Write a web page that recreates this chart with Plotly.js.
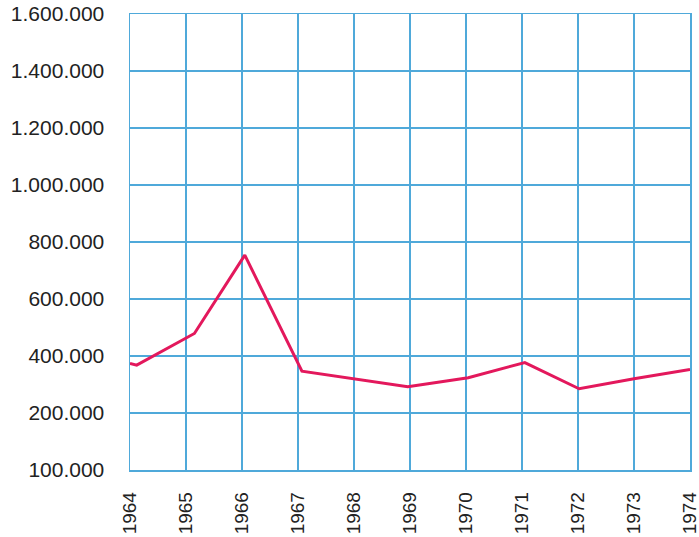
<!DOCTYPE html>
<html>
<head>
<meta charset="utf-8">
<script src="https://cdn.plot.ly/plotly-3.0.1.min.js"></script>
<style>html,body{margin:0;padding:0;background:#fff;}#chart{width:699px;height:537px;}</style>
</head>
<body>
<div id="chart"></div>
<script>
// Data (x in years, kinks sit slightly off the grid lines)
const years = [1964, 1964.12, 1965.15, 1966.05, 1967.07, 1968.96, 1970.04, 1971.05, 1972.02, 1973.0, 1974.0];
const values = [374000, 368000, 479000, 754000, 347000, 292000, 324000, 377000, 285000, 320000, 353000];
// Axis ticks (bottom line is labelled 100.000 in the original)
const yTickVals = [0, 200000, 400000, 600000, 800000, 1000000, 1200000, 1400000, 1600000];
const yTickText = ["100.000", "200.000", "400.000", "600.000", "800.000", "1.000.000", "1.200.000", "1.400.000", "1.600.000"];
const xTickVals = [1964, 1965, 1966, 1967, 1968, 1969, 1970, 1971, 1972, 1973, 1974];
const xTickText = ["1964", "1965", "1966", "1967", "1968", "1969", "1970", "1971", "1972", "1973", "1974"];

const gridColor = "#4fa9da";
const trace = {
  x: years, y: values, type: "scatter", mode: "lines",
  line: {color: "#e3185c", width: 3},
  hoverinfo: "skip"
};
const layout = {
  width: 699, height: 537,
  margin: {l: 130, r: 9, t: 14, b: 67},
  paper_bgcolor: "#ffffff", plot_bgcolor: "#ffffff",
  showlegend: false,
  font: {family: "Liberation Sans, Arial, sans-serif", size: 21, color: "#222222"},
  xaxis: {
    range: [1964, 1974], tickmode: "array", tickvals: xTickVals, ticktext: xTickText,
    tickangle: -90, tickfont: {size: 19},
    showgrid: true, gridcolor: gridColor, gridwidth: 1.5,
    showline: true, linecolor: gridColor, linewidth: 1.5, mirror: true,
    zeroline: false, ticks: "", ticklabelstandoff: 13, ticklabeloverflow: "allow",
    fixedrange: true
  },
  yaxis: {
    range: [0, 1600000], tickmode: "array", tickvals: yTickVals, ticktext: yTickText,
    showgrid: true, gridcolor: gridColor, gridwidth: 1.5,
    showline: true, linecolor: gridColor, linewidth: 1.5, mirror: true,
    zeroline: false, ticks: "", ticklabelstandoff: 20, ticklabeloverflow: "allow",
    fixedrange: true
  }
};
Plotly.newPlot("chart", [trace], layout, {displayModeBar: false, staticPlot: true});
</script>
</body>
</html>
